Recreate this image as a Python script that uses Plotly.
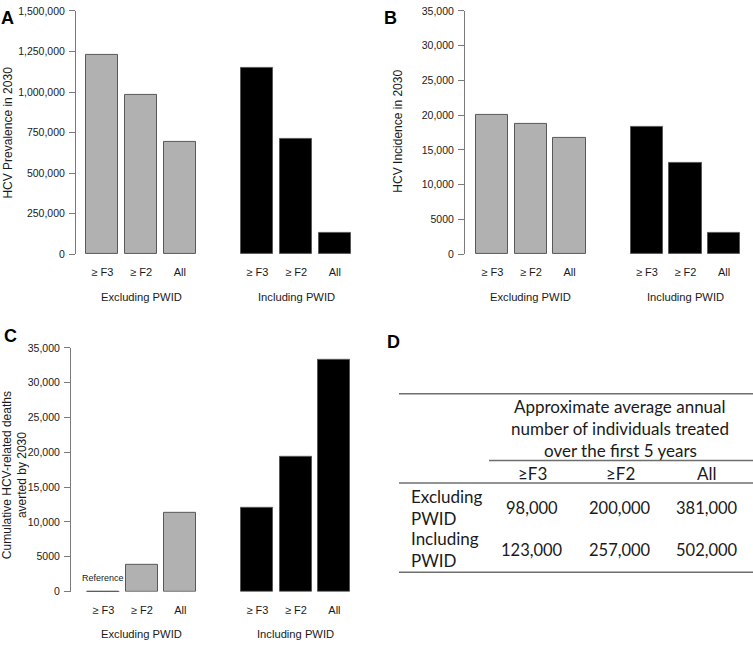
import plotly.graph_objects as go

W, H = 753, 647

# ---------------- data ----------------
categories = ["≥ F3", "≥ F2", "All"]
groups = ["Excluding PWID", "Including PWID"]

prevalence_excl = [1230000, 980000, 690000]
prevalence_incl = [1150000, 710000, 130000]
incidence_excl = [20000, 18800, 16800]
incidence_incl = [18300, 13100, 3100]
deaths_excl = [0, 3800, 11300]
deaths_incl = [12000, 19300, 33300]

yticks_A = [0, 250000, 500000, 750000, 1000000, 1250000, 1500000]
yticklabels_A = ["0", "250,000", "500,000", "750,000", "1,000,000", "1,250,000", "1,500,000"]
yticks_BC = [0, 5000, 10000, 15000, 20000, 25000, 30000, 35000]
yticklabels_BC = ["0", "5000", "10,000", "15,000", "20,000", "25,000", "30,000", "35,000"]

table_header = ["Approximate average annual", "number of individuals treated", "over the first 5 years"]
table_cols = ["≥F3", "≥F2", "All"]
table_rows = ["Excluding<br>PWID", "Including<br>PWID"]
table_excl = ["98,000", "200,000", "381,000"]
table_incl = ["123,000", "257,000", "502,000"]

# ---------------- helpers ----------------
def px(x):
    return x / W

def py(y):
    return 1 - y / H

FONT = "Liberation Sans"
GREY_FILL = "#b1b1b1"
OUTLINE = "#585858"
AXIS_COL = "#7a7a7a"
TEXT_COL = "#1a1a1a"

# bar centres in axis units (width 1, space 0.2, gap between groups)
def positions(group):
    return [0.7 + 1.2 * i + 4.8 * group for i in range(len(categories))]

all_pos = positions(0) + positions(1)
all_text = categories + categories

fig = go.Figure()

panels = [
    # name, excl, incl, axis px, first centre px, unit px, right px, ybottom px, ytop px, ymax, ticks, labels
    ("", prevalence_excl, prevalence_incl, 76, 102.3, 32.3, 360, 253, 5, 1500000, yticks_A, yticklabels_A),
    ("2", incidence_excl, incidence_incl, 465, 492.3, 32.2, 753, 253, 5, 35000, yticks_BC, yticklabels_BC),
    ("3", deaths_excl, deaths_incl, 71, 103.3, 32.1, 360, 596.7, 348.3, 35000, yticks_BC, yticklabels_BC),
]

for name, excl, incl, ax_px, c0, unit, right_px, yb, yt, ymax, tv, tt in panels:
    xa = "x" + name
    ya = "y" + name
    colors = [GREY_FILL] * 3 + ["black"] * 3
    fig.add_trace(go.Bar(
        x=all_pos, y=excl + incl, width=1,
        marker=dict(color=colors, line=dict(color=OUTLINE, width=1)),
        xaxis=xa, yaxis=ya, showlegend=False, hoverinfo="y",
    ))
    r0 = 0.7 - (c0 - ax_px) / unit
    r1 = 0.7 + (right_px - c0) / unit
    layout_x = dict(
        domain=[px(ax_px), px(right_px)], range=[r0, r1],
        showgrid=False, zeroline=False, showline=False,
        tickmode="array", tickvals=all_pos, ticktext=all_text,
        ticks="", tickfont=dict(family=FONT, size=11, color=TEXT_COL),
        ticklabelstandoff=10, anchor=ya, fixedrange=True,
    )
    layout_y = dict(
        domain=[py(yb), py(yt)], range=[0, ymax],
        showgrid=False, zeroline=False, showline=True, linecolor=AXIS_COL, linewidth=1,
        ticks="outside", ticklen=6, tickcolor=AXIS_COL, tickwidth=1,
        tickmode="array", tickvals=tv, ticktext=tt,
        tickfont=dict(family=FONT, size=10.5, color=TEXT_COL),
        ticklabelstandoff=2,
        anchor=xa, fixedrange=True,
    )
    key = "" if name == "" else name
    fig.layout["xaxis" + key] = layout_x
    fig.layout["yaxis" + key] = layout_y

    # group labels
    label_y = yb + 43
    for g, gname in enumerate(groups):
        p = positions(g)
        fig.add_annotation(
            x=sum(p) / len(p), xref=xa, y=py(label_y), yref="paper",
            text=gname, showarrow=False,
            font=dict(family=FONT, size=11.2, color=TEXT_COL),
            xanchor="center", yanchor="middle",
        )

# zero-height "Reference" bar in panel C drawn as a line at its value
p0 = positions(0)
fig.add_trace(go.Scatter(
    x=[p0[0] - 0.5, p0[0] + 0.5], y=[deaths_excl[0], deaths_excl[0]],
    mode="lines", line=dict(color=OUTLINE, width=1.5),
    xaxis="x3", yaxis="y3", showlegend=False, cliponaxis=False, hoverinfo="skip",
))
fig.add_annotation(
    x=p0[0], xref="x3", y=py(583), yref="paper", text="Reference",
    showarrow=False, font=dict(family=FONT, size=9, color=TEXT_COL),
    xanchor="center", yanchor="middle",
)

# y-axis titles
fig.add_annotation(x=px(8), y=py(129), xref="paper", yref="paper",
                   text="HCV Prevalence in 2030", textangle=-90, showarrow=False,
                   font=dict(family=FONT, size=12, color=TEXT_COL),
                   xanchor="center", yanchor="middle")
fig.add_annotation(x=px(398), y=py(128), xref="paper", yref="paper",
                   text="HCV Incidence in 2030", textangle=-90, showarrow=False,
                   font=dict(family=FONT, size=12, color=TEXT_COL),
                   xanchor="center", yanchor="middle")
fig.add_annotation(x=px(15), y=py(478), xref="paper", yref="paper",
                   text="Cumulative HCV-related deaths<br>averted by 2030", textangle=-90,
                   showarrow=False, font=dict(family=FONT, size=12, color=TEXT_COL),
                   xanchor="center", yanchor="middle")

# panel letters
for letter, lx, ly in [("A", 8, 12), ("B", 390, 12), ("C", 10, 336), ("D", 393, 342)]:
    fig.add_annotation(x=px(lx), y=py(ly), xref="paper", yref="paper", text="<b>" + letter + "</b>",
                       showarrow=False, font=dict(family=FONT, size=18, color="black"),
                       xanchor="center", yanchor="middle")

# ---------------- table D ----------------
TFONT = dict(family="Lato", size=17, color=TEXT_COL)
LINE = dict(color="#6e6e6e", width=1.5)
for x0, x1, yy in [(399, 753, 395), (489, 753, 463), (399, 753, 486), (399, 753, 577)]:
    fig.add_shape(type="line", xref="paper", yref="paper",
                  x0=px(x0), x1=px(x1), y0=py(yy), y1=py(yy), line=LINE)

for i, line_text in enumerate(table_header):
    fig.add_annotation(x=px(620), y=py(408 + 22.5 * i), xref="paper", yref="paper",
                       text=line_text, showarrow=False, font=TFONT,
                       xanchor="center", yanchor="middle")

col_x = [532, 620, 707]
for cx, c in zip(col_x, table_cols):
    fig.add_annotation(x=px(cx), y=py(476), xref="paper", yref="paper", text=c,
                       showarrow=False, font=TFONT, xanchor="center", yanchor="middle")

for row_label, vals, ry in [(table_rows[0], table_excl, 511), (table_rows[1], table_incl, 554)]:
    fig.add_annotation(x=px(409), y=py(ry), xref="paper", yref="paper", text=row_label,
                       showarrow=False, font=TFONT, xanchor="left", yanchor="middle",
                       align="left")
    for cx, v in zip(col_x, vals):
        fig.add_annotation(x=px(cx), y=py(ry), xref="paper", yref="paper", text=v,
                           showarrow=False, font=dict(family="Lato", size=16.5, color=TEXT_COL),
                           xanchor="center", yanchor="middle")

fig.update_layout(
    width=W, height=H,
    margin=dict(l=0, r=0, t=0, b=0),
    paper_bgcolor="white", plot_bgcolor="white",
    bargap=0, showlegend=False,
)

fig.write_html("out.html", config={"displayModeBar": False},
               post_script="document.body.style.margin='0';document.body.style.overflow='hidden';")
